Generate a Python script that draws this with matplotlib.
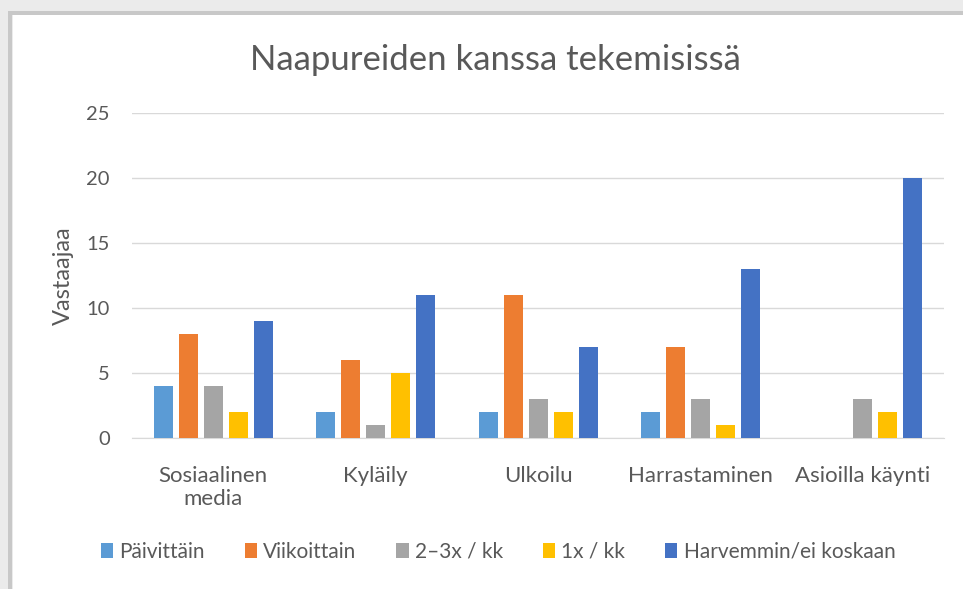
import matplotlib
matplotlib.use("Agg")
import matplotlib.pyplot as plt
import numpy as np
from matplotlib.patches import Rectangle

categories = ["Sosiaalinen\nmedia", "Kyläily", "Ulkoilu", "Harrastaminen", "Asioilla käynti"]
series_names = ["Päivittäin", "Viikoittain", "2–3x / kk", "1x / kk", "Harvemmin/ei koskaan"]
paivittain = [4, 2, 2, 2, 0]
viikoittain = [8, 6, 11, 7, 0]
kaksi_kolme = [4, 1, 3, 3, 3]
kerran = [2, 5, 2, 1, 2]
harvemmin = [9, 11, 7, 13, 20]
colors = ["#5B9BD5", "#ED7D31", "#A5A5A5", "#FFC000", "#4472C4"]

values = [paivittain, viikoittain, kaksi_kolme, kerran, harvemmin]

plt.rcParams['font.family'] = ['Lato', 'DejaVu Sans']
W, H = 963, 589
fig = plt.figure(figsize=(W / 100, H / 100), dpi=100)
fig.patch.set_facecolor("white")

def px(x0, y0, w, h):
    return (x0 / W, 1 - (y0 + h) / H, w / W, h / H)

# frame shadow
for (x0, y0, w, h, c) in [
    (0, 0, 13, H, "#EBEBEB"), (0, 0, W, 15, "#EBEBEB"),
    (8, 12, 4, H - 12, "#C8C8C8"), (8, 11, W - 8, 4, "#C8C8C8"),
]:
    l, b, ww, hh = px(x0, y0, w, h)
    fig.add_artist(Rectangle((l, b), ww, hh, transform=fig.transFigure,
                             facecolor=c, edgecolor="none", zorder=0))

ax = fig.add_axes([132 / W, 1 - 438 / H, 812 / W, 325 / H])
x = np.arange(len(categories))
step = 25 / 162.4
width = 19 / 162.4
for i, (vals, name, c) in enumerate(zip(values, series_names, colors)):
    ax.bar(x + (i - 2) * step, vals, width=width, color=c, label=name, zorder=3)

ax.set_xlim(-0.5, len(categories) - 0.5)
ax.set_ylim(0, 25)
ax.set_yticks([0, 5, 10, 15, 20, 25])
ax.grid(axis="y", color="#D9D9D9", linewidth=1, zorder=0)
for s in ["top", "right", "left"]:
    ax.spines[s].set_visible(False)
ax.spines["bottom"].set_color("#D9D9D9")
ax.tick_params(axis="both", length=0, colors="#595959")
ax.tick_params(axis="y", pad=16, labelsize=14.5)
ax.tick_params(axis="x", pad=20, labelsize=16)
ax.set_xticks(x)
ax.set_xticklabels(categories, va="top", linespacing=1.2)
ax.set_ylabel("Vastaajaa", fontsize=17, color="#595959")
ax.yaxis.set_label_coords((63 - 132) / 812, 0.5)
ax.yaxis.label.set_va("center")

fig.text(495 / W, 1 - 60 / H, "Naapureiden kanssa tekemisissä", ha="center", va="center",
         fontsize=25, color="#595959")

leg = fig.legend(loc="center", bbox_to_anchor=(498 / W, 1 - 552 / H), ncol=5, frameon=False,
                 fontsize=15, handlelength=0.6, handleheight=0.7, handletextpad=0.3,
                 columnspacing=1.9, labelcolor="#595959")

fig.savefig("out.png", dpi=100, facecolor="white")
